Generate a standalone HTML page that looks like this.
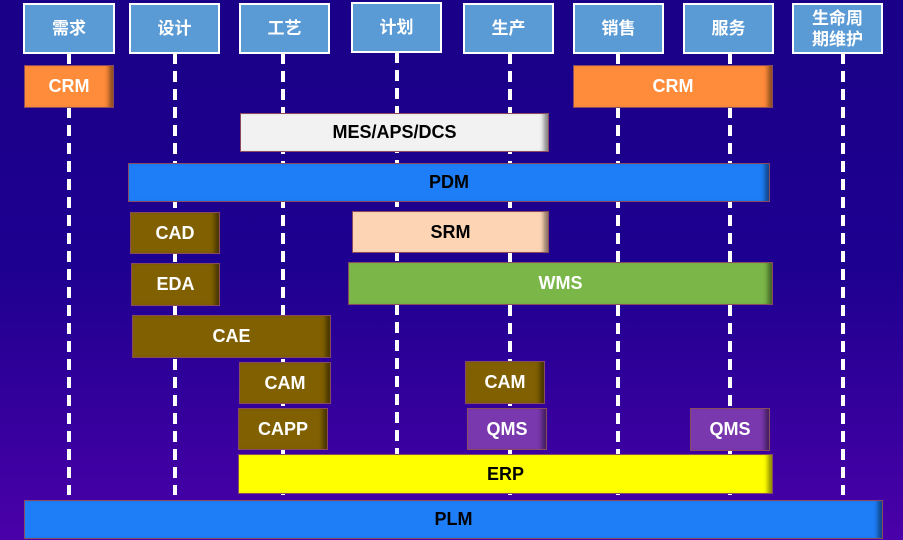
<!DOCTYPE html>
<html><head><meta charset="utf-8"><style>
*{margin:0;padding:0;box-sizing:border-box}
body{width:903px;height:540px;overflow:hidden;position:relative;background:linear-gradient(to bottom,#1a0088 0%,#1e0090 50%,#4a00a8 100%);font-family:"Liberation Sans","Noto Sans CJK SC",sans-serif}
.h{position:absolute;background:#5b9bd5;border:2px solid #fff;color:#fff;font-weight:bold;font-size:17px;display:flex;align-items:center;justify-content:center;text-align:center;line-height:21px}
.l{position:absolute;width:4px;background:repeating-linear-gradient(to bottom,#fff 0 11px,transparent 11px 18px)}
.b{position:absolute;display:flex;align-items:center;justify-content:center;font-weight:bold;font-size:18px;color:#fff;border:1px solid #8a4a60;box-shadow:inset -7px 0 5px -3px rgba(0,0,0,.45)}
.o{background:#ff8c3a}.br{background:#806000}.q{background:#7a38ae}.k{color:#000}
</style></head><body>
<div class="l" style="left:67px;top:53px;height:442px"></div>
<div class="l" style="left:173px;top:53px;height:442px"></div>
<div class="l" style="left:281px;top:53px;height:442px"></div>
<div class="l" style="left:395px;top:52px;height:412px"></div>
<div class="l" style="left:508px;top:53px;height:442px"></div>
<div class="l" style="left:616px;top:53px;height:442px"></div>
<div class="l" style="left:728px;top:53px;height:442px"></div>
<div class="l" style="left:841px;top:53px;height:442px"></div>

<div class="h" style="left:23px;top:3px;width:92px;height:51px">需求</div>
<div class="h" style="left:129px;top:3px;width:91px;height:51px">设计</div>
<div class="h" style="left:239px;top:3px;width:91px;height:51px">工艺</div>
<div class="h" style="left:351px;top:2px;width:91px;height:51px">计划</div>
<div class="h" style="left:463px;top:3px;width:91px;height:51px">生产</div>
<div class="h" style="left:573px;top:3px;width:91px;height:51px">销售</div>
<div class="h" style="left:683px;top:3px;width:91px;height:51px">服务</div>
<div class="h" style="left:792px;top:3px;width:91px;height:51px">生命周<br>期维护</div>

<div class="b o" style="left:24px;top:65px;width:90px;height:43px">CRM</div>
<div class="b o" style="left:573px;top:65px;width:200px;height:43px">CRM</div>
<div class="b k" style="left:240px;top:113px;width:309px;height:39px;background:#f2f2f2">MES/APS/DCS</div>
<div class="b k" style="left:128px;top:163px;width:642px;height:39px;background:#1e7ef7">PDM</div>
<div class="b br" style="left:130px;top:212px;width:90px;height:42px">CAD</div>
<div class="b k" style="left:352px;top:211px;width:197px;height:42px;background:#fdd5b5">SRM</div>
<div class="b br" style="left:131px;top:263px;width:89px;height:43px">EDA</div>
<div class="b" style="left:348px;top:262px;width:425px;height:43px;background:#7ab648">WMS</div>
<div class="b br" style="left:132px;top:315px;width:199px;height:43px">CAE</div>
<div class="b br" style="left:239px;top:362px;width:92px;height:42px">CAM</div>
<div class="b br" style="left:465px;top:361px;width:80px;height:43px">CAM</div>
<div class="b br" style="left:238px;top:408px;width:90px;height:42px">CAPP</div>
<div class="b q" style="left:467px;top:408px;width:80px;height:42px">QMS</div>
<div class="b q" style="left:690px;top:408px;width:80px;height:43px">QMS</div>
<div class="b k" style="left:238px;top:454px;width:535px;height:40px;background:#ffff00">ERP</div>
<div class="b k" style="left:24px;top:500px;width:859px;height:39px;background:#1e7ef7">PLM</div>
</body></html>
